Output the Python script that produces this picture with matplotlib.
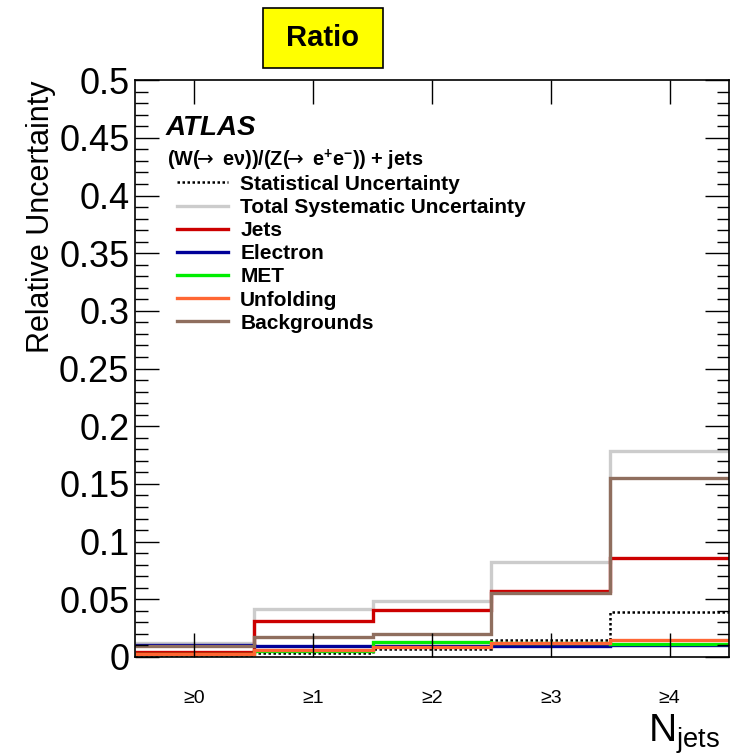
import numpy as np
import matplotlib
matplotlib.use("Agg")
import matplotlib.pyplot as plt
from matplotlib.lines import Line2D
from matplotlib.patches import Rectangle
from matplotlib.ticker import MultipleLocator

plt.rcParams['font.family'] = ['Liberation Sans', 'DejaVu Sans']

categories = ["≥0", "≥1", "≥2", "≥3", "≥4"]
stat_unc = [0.002, 0.0034, 0.0069, 0.0150, 0.0393]
total_syst = [0.0125, 0.0413, 0.0483, 0.0820, 0.1785]
jets = [0.0043, 0.0315, 0.0405, 0.0575, 0.0860]
electron = [0.0100, 0.0095, 0.0093, 0.0098, 0.0100]
met = [0.0025, 0.0055, 0.0130, 0.0120, 0.0110]
unfolding = [0.0025, 0.0057, 0.0090, 0.0124, 0.0145]
backgrounds = [0.0095, 0.0177, 0.0197, 0.0552, 0.1554]

series = [
    ("Statistical Uncertainty", stat_unc, "black", (0, (1, 1)), 1.8),
    ("Total Systematic Uncertainty", total_syst, "#cccccc", "-", 2.4),
    ("Jets", jets, "#cc0000", "-", 2.4),
    ("Electron", electron, "#000099", "-", 2.4),
    ("MET", met, "#00ee00", "-", 2.4),
    ("Unfolding", unfolding, "#ff6633", "-", 2.4),
    ("Backgrounds", backgrounds, "#8f6e5e", "-", 2.4),
]

fig = plt.figure(figsize=(7.31, 7.56), dpi=100)
ax = fig.add_axes([0.1847, 0.131, 0.8126, 0.763])

edges = np.arange(len(categories) + 1) - 0.5
handles = []
for name, vals, col, ls, lw in series:
    ax.stairs(vals, edges, baseline=None, color=col, linestyle=ls, linewidth=lw)
    handles.append(Line2D([], [], color=col, linestyle=ls, linewidth=lw, label=name))

ax.set_xlim(edges[0], edges[-1])
ax.set_ylim(0, 0.5)
ax.set_xticks(np.arange(len(categories)))
ax.set_xticklabels(categories, fontsize=14)
ax.yaxis.set_minor_locator(MultipleLocator(0.01))
ax.set_yticks(np.arange(0, 0.501, 0.05))
ax.set_yticklabels(["0", "0.05", "0.1", "0.15", "0.2", "0.25", "0.3", "0.35", "0.4", "0.45", "0.5"], fontsize=26)
ax.tick_params(axis='y', which='major', direction='in', length=17, width=1, left=True, right=True, pad=4)
ax.tick_params(axis='y', which='minor', direction='in', length=9, width=1, left=True, right=True)
ax.tick_params(axis='x', which='major', direction='in', length=17, width=1, top=True, bottom=True, pad=24)
for s in ax.spines.values():
    s.set_linewidth(1.2)

ax.set_ylabel("Relative Uncertainty", fontsize=22, loc='top', labelpad=2)
fig.text(0.985, 0.0, r"N$_{\mathregular{jets}}$", fontsize=28, ha='right', va='bottom')

fig.patches.append(Rectangle((263 / 731, 1 - 68 / 756), 120 / 731, 60 / 756, transform=fig.transFigure,
                             facecolor='#ffff00', edgecolor='black', linewidth=1.2))
fig.text(323 / 731, 1 - 38 / 756, "Ratio", fontsize=21, fontweight='bold', ha='center', va='center')

fig.text(0.226, 0.831, "ATLAS", fontsize=20, fontweight='bold', style='italic', ha='left', va='center')
fig.text(0.228, 0.788,
         "(W($\\!\\!\\rightarrow$ eν))/(Z($\\!\\!\\rightarrow$ e$^{\\mathregular{+}}$e$^{\\mathregular{-}}$)) + jets",
         fontsize=14.3, fontweight='bold', ha='left', va='center')

leg = ax.legend(handles=handles, loc='upper left', bbox_to_anchor=(0.0707, 0.836),
                frameon=False, prop={'weight': 'bold', 'size': 15},
                handlelength=2.45, handletextpad=0.58, labelspacing=0.2,
                borderaxespad=0, borderpad=0)

fig.savefig("out.png", dpi=100)
